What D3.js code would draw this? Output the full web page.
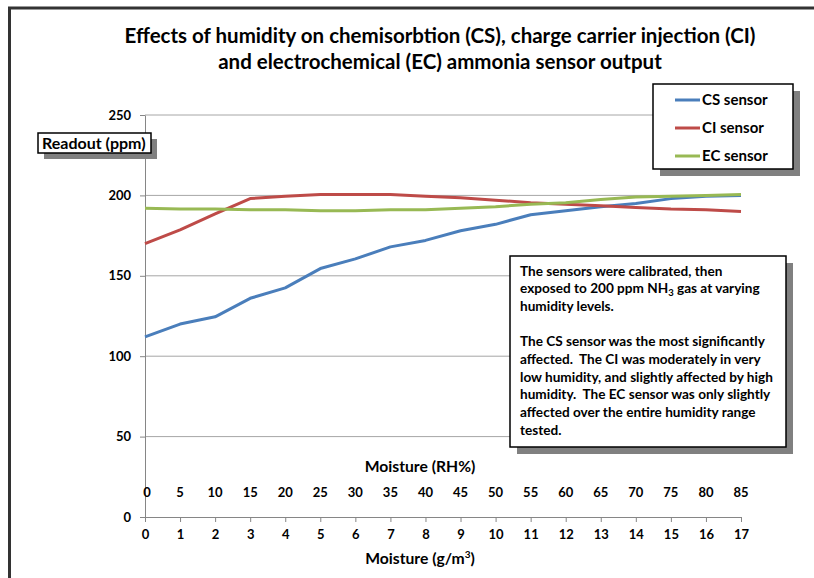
<!DOCTYPE html>
<html lang="en">
<head>
    <meta charset="UTF-8">
    <title>Effects of humidity on ammonia sensor output</title>
    <script src="https://d3js.org/d3.v7.min.js"></script>
    <style>
        body { margin: 0; background: #fff; }
        svg text { font-family: Lato, "Open Sans", sans-serif; font-weight: bold; fill: #000; white-space: pre; }
        .grid line { stroke: #a6a6a6; stroke-width: 1; }
        .axis path, .axis line { stroke: #868686; }
        .series { fill: none; stroke-width: 3; stroke-linejoin: round; }
    </style>
</head>
<body>
<div id="chart"></div>
<script>
// Humidity in g/m3 (category axis) and the matching RH% labels
const moistureGm3 = [0, 1, 2, 3, 4, 5, 6, 7, 8, 9, 10, 11, 12, 13, 14, 15, 16, 17];
const moistureRH = ['0', '5', '10', '15', '20', '25', '30', '35', '40', '45', '50', '55', '60', '65', '70', '75', '80', '85'];

// Sensor readout (ppm)
const csSensor = [112, 120, 124.5, 136, 142.5, 154.5, 160.5, 168, 172, 178, 182, 188, 190.5, 193, 195, 198, 199.5, 200];
const ciSensor = [170, 178.5, 188.5, 198, 199.5, 200.5, 200.5, 200.5, 199.5, 198.5, 197, 195.5, 194.5, 193.5, 192.5, 191.5, 191, 190];
const ecSensor = [192, 191.5, 191.5, 191, 191, 190.5, 190.5, 191, 191, 192, 193, 194.5, 195.5, 197.5, 199, 199.5, 200, 200.5];

const yTicks = [0, 50, 100, 150, 200, 250];

const seriesList = [
    { name: 'CS sensor', values: csSensor, color: '#4a7ebb' },
    { name: 'CI sensor', values: ciSensor, color: '#be4b48' },
    { name: 'EC sensor', values: ecSensor, color: '#98b954' }
];

const noteLines = [
    ['The sensors were calibrated, then'],
    ['exposed to 200 ppm NH', '3', ' gas at varying'],
    ['humidity levels.'],
    [''],
    ['The CS sensor was the most significantly'],
    ['affected.  The CI was moderately in very'],
    ['low humidity, and slightly affected by high'],
    ['humidity.  The EC sensor was only slightly'],
    ['affected over the entire humidity range'],
    ['tested.']
];

const W = 814, H = 578;
const plot = { left: 145, right: 741, top: 115, bottom: 517 };

const svg = d3.select('#chart').append('svg')
    .attr('width', W)
    .attr('height', H);

// outer chart frame (only top and left edges visible)
svg.append('path')
    .attr('d', `M9.5,${H} L9.5,8 L${W},8`)
    .attr('fill', 'none')
    .attr('stroke', '#333')
    .attr('stroke-width', 3);

const x = d3.scaleLinear().domain([0, 17]).range([plot.left, plot.right]);
const y = d3.scaleLinear().domain([0, 250]).range([plot.bottom, plot.top]);

// title
const title = svg.append('text')
    .attr('text-anchor', 'middle')
    .style('font-size', '20.5px');
title.append('tspan').attr('x', 440).attr('y', 43)
    .text('Effects of humidity on chemisorbtion (CS), charge carrier injection (CI)');
title.append('tspan').attr('x', 440).attr('y', 69)
    .text('and electrochemical (EC) ammonia sensor output');

// horizontal gridlines
svg.append('g').attr('class', 'grid')
    .selectAll('line')
    .data(yTicks.filter(d => d > 0))
    .enter().append('line')
    .attr('x1', plot.left).attr('x2', plot.right)
    .attr('y1', d => y(d)).attr('y2', d => y(d));

// y axis
const yAxis = svg.append('g').attr('class', 'axis')
    .attr('transform', `translate(${plot.left},0)`)
    .call(d3.axisLeft(y).tickValues(yTicks).tickSize(5).tickSizeOuter(0).tickPadding(9));
yAxis.selectAll('text').style('font-size', '13px').attr('fill', '#000');

// bottom x axis (g/m3)
const xAxis = svg.append('g').attr('class', 'axis')
    .attr('transform', `translate(0,${plot.bottom})`)
    .call(d3.axisBottom(x).tickValues(moistureGm3).tickSize(5).tickSizeOuter(0).tickPadding(8).tickFormat(d3.format('d')));
xAxis.selectAll('text').style('font-size', '13px').attr('fill', '#000');

// secondary RH% labels
svg.append('g')
    .selectAll('text')
    .data(moistureGm3)
    .enter().append('text')
    .attr('x', d => x(d) + (d === 0 ? 2 : 0))
    .attr('y', 497)
    .attr('text-anchor', 'middle')
    .style('font-size', '13px')
    .text((d, i) => moistureRH[i]);

svg.append('text')
    .attr('x', 420).attr('y', 472)
    .attr('text-anchor', 'middle')
    .style('font-size', '15.7px')
    .text('Moisture (RH%)');

const xTitle = svg.append('text')
    .attr('x', 420).attr('y', 564)
    .attr('text-anchor', 'middle')
    .style('font-size', '15.7px');
xTitle.append('tspan').text('Moisture (g/m');
xTitle.append('tspan').attr('dy', -6).style('font-size', '10px').text('3');
xTitle.append('tspan').attr('dy', 6).text(')');

// series lines
const line = d3.line()
    .x((d, i) => x(moistureGm3[i]))
    .y(d => y(d));

svg.append('g').selectAll('path')
    .data(seriesList)
    .enter().append('path')
    .attr('class', 'series')
    .attr('stroke', d => d.color)
    .attr('d', d => line(d.values));

// helper for boxes with a drop shadow
function shadowBox(x0, y0, w, h, off) {
    svg.append('rect').attr('x', x0 + off).attr('y', y0 + off)
        .attr('width', w).attr('height', h).attr('fill', '#808080');
    svg.append('rect').attr('x', x0).attr('y', y0)
        .attr('width', w).attr('height', h)
        .attr('fill', '#fff').attr('stroke', '#000').attr('stroke-width', 1.5);
}

// y axis title box
shadowBox(38, 133, 113, 20, 6);
svg.append('text').attr('x', 42).attr('y', 149)
    .style('font-size', '16px')
    .text('Readout (ppm)');

// legend
shadowBox(653, 84, 140, 85, 7);
const legend = svg.append('g').selectAll('g')
    .data(seriesList)
    .enter().append('g')
    .attr('transform', (d, i) => `translate(675,${100 + i * 28})`);
legend.append('line')
    .attr('x1', 0).attr('x2', 25)
    .attr('stroke', d => d.color).attr('stroke-width', 3);
legend.append('text')
    .attr('x', 27).attr('dy', '0.35em')
    .style('font-size', '15px')
    .text(d => d.name);

// annotation box
shadowBox(510, 256, 276, 191, 7);
const note = svg.append('text').style('font-size', '13.6px');
noteLines.forEach((parts, i) => {
    const t = note.append('tspan').attr('x', 520).attr('y', 275.5 + i * 17.7);
    parts.forEach((p, j) => {
        if (j === 1) {
            t.append('tspan').attr('dy', 3).style('font-size', '9.5px').text(p);
        } else if (j === 2) {
            t.append('tspan').attr('dy', -3).text(p);
        } else {
            t.append('tspan').text(p);
        }
    });
});
</script>
</body>
</html>
